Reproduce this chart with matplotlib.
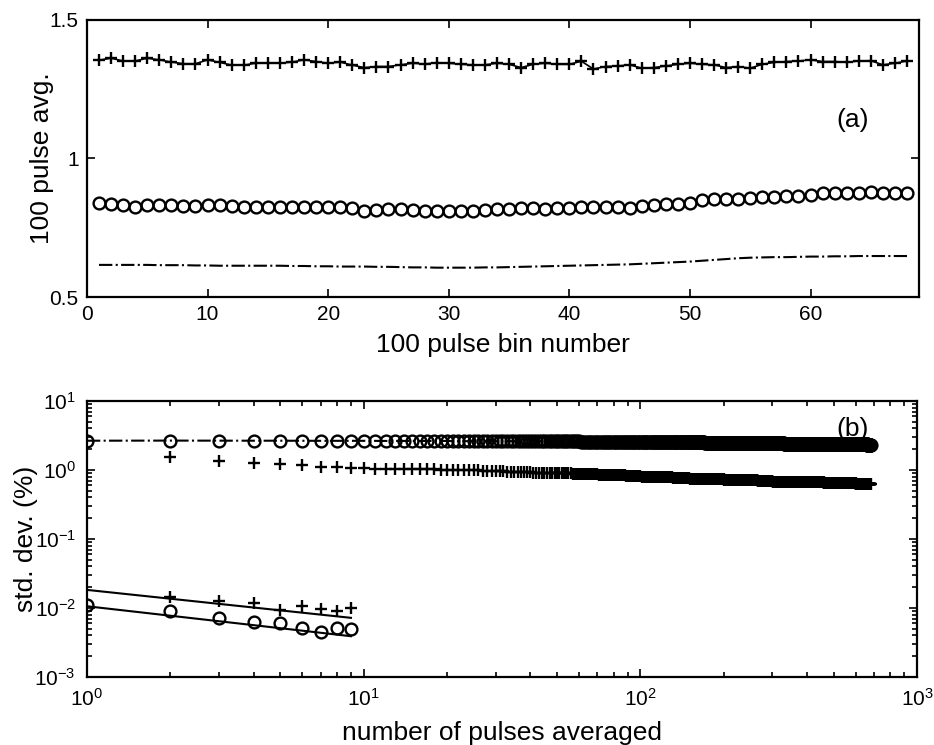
import matplotlib
matplotlib.use("Agg")
import matplotlib.pyplot as plt
import numpy as np
from matplotlib.ticker import FixedLocator, LogLocator, NullFormatter

plt.rcParams["font.family"] = ["Liberation Sans", "DejaVu Sans"]
plt.rcParams["mathtext.fontset"] = "custom"
plt.rcParams["mathtext.rm"] = "Liberation Sans"
plt.rcParams["mathtext.it"] = "Liberation Sans:italic"
plt.rcParams["mathtext.bf"] = "Liberation Sans:bold"

# (a) 100-pulse averages per bin, three detector channels
BIN_A = np.arange(1, 69)
PLUS_A = [
    1.355, 1.362, 1.352, 1.352, 1.362, 1.356, 1.348, 1.342, 1.342, 1.356,
    1.347, 1.337, 1.337, 1.344, 1.344, 1.344, 1.348, 1.356, 1.350, 1.344,
    1.348, 1.337, 1.328, 1.332, 1.332, 1.338, 1.344, 1.341, 1.346, 1.344,
    1.340, 1.338, 1.338, 1.344, 1.340, 1.328, 1.340, 1.344, 1.340, 1.340,
    1.351, 1.323, 1.332, 1.334, 1.338, 1.326, 1.328, 1.334, 1.340, 1.344,
    1.340, 1.338, 1.328, 1.332, 1.326, 1.340, 1.347, 1.350, 1.352, 1.356,
    1.350, 1.350, 1.347, 1.352, 1.353, 1.338, 1.344, 1.352,
]
CIRC_A = [
    0.841, 0.836, 0.833, 0.826, 0.831, 0.833, 0.833, 0.829, 0.829, 0.831,
    0.833, 0.830, 0.826, 0.824, 0.824, 0.824, 0.824, 0.826, 0.826, 0.826,
    0.824, 0.820, 0.812, 0.814, 0.817, 0.819, 0.814, 0.809, 0.809, 0.812,
    0.809, 0.812, 0.814, 0.817, 0.819, 0.821, 0.820, 0.818, 0.821, 0.821,
    0.824, 0.826, 0.824, 0.824, 0.821, 0.829, 0.831, 0.836, 0.836, 0.838,
    0.850, 0.855, 0.853, 0.855, 0.857, 0.860, 0.862, 0.865, 0.866, 0.869,
    0.874, 0.877, 0.874, 0.877, 0.879, 0.874, 0.877, 0.874,
]
DASH_A = [
    0.616, 0.616, 0.616, 0.616, 0.616, 0.615, 0.615, 0.615, 0.614, 0.614,
    0.613, 0.613, 0.613, 0.613, 0.613, 0.613, 0.612, 0.612, 0.611, 0.611,
    0.610, 0.610, 0.610, 0.609, 0.609, 0.608, 0.607, 0.607, 0.606, 0.606,
    0.606, 0.606, 0.607, 0.607, 0.608, 0.609, 0.610, 0.611, 0.612, 0.613,
    0.614, 0.615, 0.616, 0.617, 0.618, 0.620, 0.622, 0.624, 0.626, 0.628,
    0.631, 0.634, 0.637, 0.640, 0.642, 0.643, 0.644, 0.644, 0.645, 0.646,
    0.646, 0.647, 0.647, 0.648, 0.648, 0.648, 0.648, 0.648,
]

# (b) std. dev. vs number of pulses averaged, stored as run-length blocks
# (value held over `runs` consecutive n)
B_CIRC_VALUES = [2.66, 2.67, 2.66, 2.65, 2.64, 2.62, 2.61, 2.59, 2.57, 2.55,
                 2.53, 2.51, 2.49, 2.47, 2.45, 2.43, 2.41, 2.40, 2.39, 2.38,
                 2.36, 2.33]
B_CIRC_RUNS = [1, 1, 3, 5, 10, 20, 20, 20, 20, 20,
               20, 30, 30, 40, 40, 50, 70, 80, 80, 60,
               40, 20]
B_PLUS_VALUES = [1.55, 1.36, 1.27, 1.24, 1.20, 1.12, 1.10, 1.08, 1.06,
                 1.05, 1.04, 1.03, 1.02, 1.01, 1.00, 0.99, 0.98, 0.96,
                 0.95, 0.93, 0.92, 0.91, 0.90, 0.88, 0.87, 0.85, 0.84,
                 0.82, 0.80, 0.78, 0.76, 0.75, 0.73, 0.72, 0.71, 0.70,
                 0.68, 0.67, 0.66, 0.65, 0.64, 0.63]
B_PLUS_RUNS = [1, 1, 1, 1, 1, 1, 1, 1, 1,
               2, 2, 2, 2, 2, 3, 3, 3, 3,
               4, 4, 5, 5, 6, 6, 8, 8, 10,
               12, 15, 15, 20, 25, 25, 30, 35, 35,
               50, 50, 60, 70, 70, 80]

# single-pulse reference set (n = 1..9) and its 1/sqrt(n) guide lines
LOW_CIRC = [0.0111, 0.0091, 0.0071, 0.0063, 0.0061, 0.0051, 0.0045, 0.0052, 0.0049]
LOW_PLUS = [0.0146, 0.0128, 0.0120, 0.0094, 0.0107, 0.0096, 0.0091, 0.0099]
FIT_N = [1, 9]
FIT_UPPER = [0.0183, 0.0072]
FIT_LOWER = [0.0106, 0.0039]

n_circ = np.arange(1, sum(B_CIRC_RUNS) + 1)
circ_b = np.repeat(B_CIRC_VALUES, B_CIRC_RUNS)
n_plus = np.arange(2, sum(B_PLUS_RUNS) + 2)
plus_b = np.repeat(B_PLUS_VALUES, B_PLUS_RUNS)

fig = plt.figure(figsize=(9.34, 7.45), dpi=100)
ax1 = fig.add_axes([0.0931, 0.6013, 0.8909, 0.3719])
ax2 = fig.add_axes([0.0931, 0.0913, 0.8887, 0.3704])

lw = 1.5
ax1.plot(BIN_A, PLUS_A, "-+", color="k", lw=1.2, ms=8, mew=1.7)
ax1.plot(BIN_A, CIRC_A, "o", color="k", mfc="none", ms=8.5, mew=1.7)
ax1.plot(BIN_A, DASH_A, "-.", color="k", lw=lw)
ax1.set_xlim(0, 69)
ax1.set_ylim(0.5, 1.5)
ax1.xaxis.set_major_locator(FixedLocator(range(0, 70, 10)))
ax1.set_yticks([0.5, 1.0, 1.5], ["0.5", "1", "1.5"])
ax1.set_xlabel("100 pulse bin number", fontsize=19, labelpad=6)
ax1.set_ylabel("100 pulse avg.", fontsize=19, labelpad=-3)
ax1.text(0.92, 0.64, "(a)", transform=ax1.transAxes, fontsize=19,
         ha="center", va="center")

ax2.plot(n_circ, circ_b, "o-.", color="k", mfc="none", lw=lw, ms=8.5, mew=1.7)
ax2.plot(n_plus, plus_b, "+", color="k", ms=8, mew=1.7)
ax2.plot(np.arange(1, 10), LOW_CIRC, "o", color="k", mfc="none", ms=8.5, mew=1.7)
ax2.plot(np.arange(2, 10), LOW_PLUS, "+", color="k", ms=8, mew=1.7)
ax2.plot(FIT_N, FIT_UPPER, "-", color="k", lw=lw)
ax2.plot(FIT_N, FIT_LOWER, "-", color="k", lw=lw)
ax2.set_xscale("log")
ax2.set_yscale("log")
ax2.set_xlim(1, 1000)
ax2.set_ylim(1e-3, 10)
ax2.xaxis.set_major_locator(LogLocator(base=10, numticks=10))
ax2.yaxis.set_major_locator(LogLocator(base=10, numticks=10))
for axis in (ax2.xaxis, ax2.yaxis):
    axis.set_minor_locator(LogLocator(base=10, subs=np.arange(2, 10), numticks=20))
    axis.set_minor_formatter(NullFormatter())
ax2.set_xlabel("number of pulses averaged", fontsize=19, labelpad=8)
ax2.set_ylabel("std. dev. (%)", fontsize=19, labelpad=-2.5)
ax2.text(0.922, 0.90, "(b)", transform=ax2.transAxes, fontsize=19,
         ha="center", va="center")

for ax in (ax1, ax2):
    for sp in ax.spines.values():
        sp.set_linewidth(1.6)
    ax.tick_params(which="both", direction="in", top=True, right=True,
                   labelsize=15, width=1.2)
    ax.tick_params(which="minor", length=3.5)
ax1.tick_params(which="major", length=6, pad=6)
ax2.tick_params(which="major", length=6, pad=8)

fig.savefig("out.png", dpi=100)
